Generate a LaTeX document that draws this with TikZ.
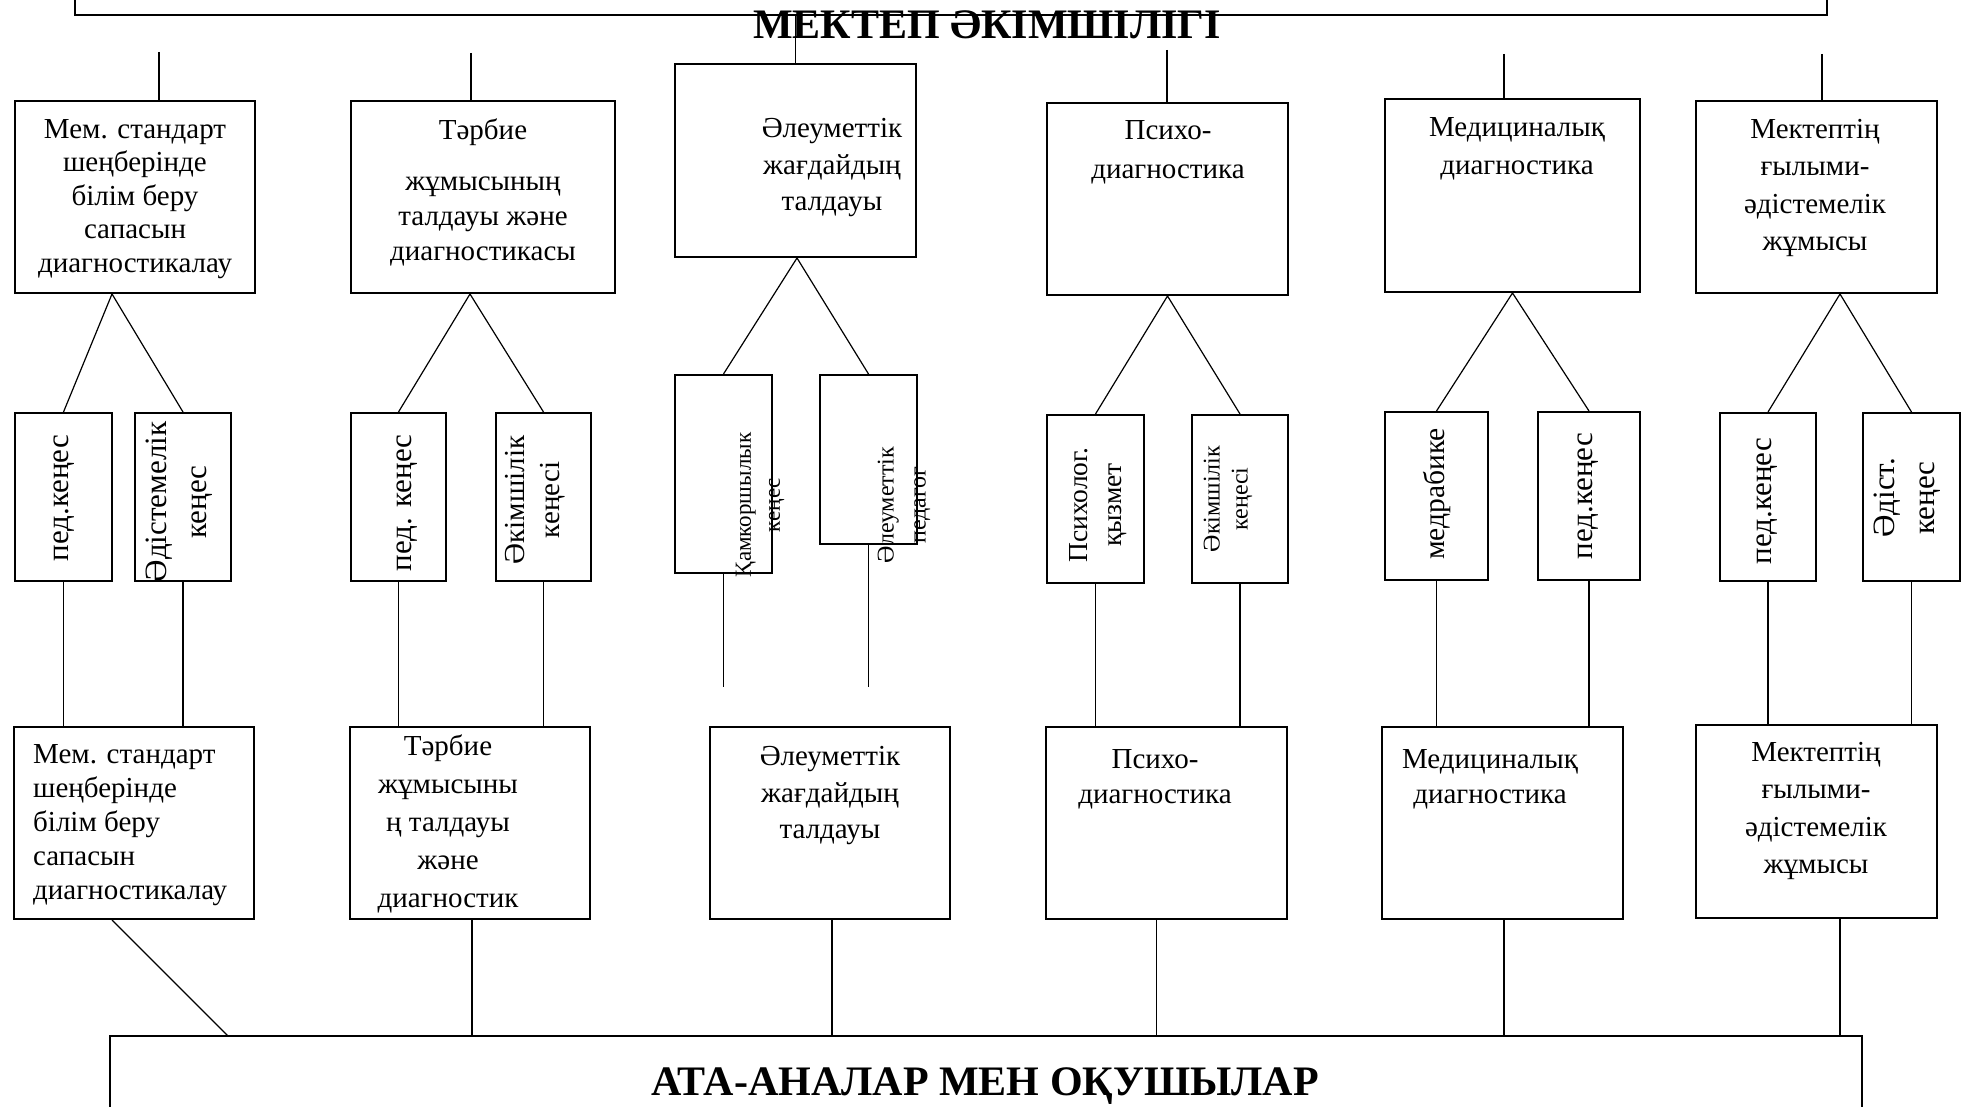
\documentclass[tikz,border=0pt]{standalone}
\usepackage{fontspec}
\setmainfont{Liberation Serif}
\usepackage{tikz}

\newcommand{\fsz}[2]{\fontsize{#1}{#2}\selectfont}

\begin{document}
\begin{tikzpicture}[x=1pt, y=-1pt,
  box/.style={draw, line width=2pt, inner sep=0pt},
  txt/.style={align=center, inner sep=0pt, font=\fsz{29}{35}},
  vtxt/.style={align=center, inner sep=0pt, rotate=90, font=\fsz{31}{36}},
  head/.style={inner sep=0pt, anchor=base, font=\bfseries\fsz{42}{42}},
  link/.style={line width=1.2pt}]

\useasboundingbox (0,0) rectangle (1968,1107);

\node[box, minimum width=1752, minimum height=60] (admin) at (951,-15) {};
\node[head] (admintitle) at (987,39) {МЕКТЕП ӘКІМШІЛІГІ};
\node[box, minimum width=1752, minimum height=110] (parents) at (986,1091) {};
\node[head] (parentstitle) at (985,1095) {АТА-АНАЛАР МЕН ОҚУШЫЛАР};

\node[box, minimum width=240, minimum height=192] (a1) at (135,197) {};
\node[box, minimum width=264, minimum height=192] (a2) at (483,197) {};
\node[box, minimum width=241, minimum height=193] (a3) at (795.5,160.5) {};
\node[box, minimum width=241, minimum height=192] (a4) at (1167.5,199) {};
\node[box, minimum width=255, minimum height=193] (a5) at (1512.5,195.5) {};
\node[box, minimum width=241, minimum height=192] (a6) at (1816.5,197) {};

\node[txt, font=\fsz{29}{33.5}] (a1t) at (135,199) {Мем. стандарт\\шеңберінде\\білім беру\\сапасын\\диагностикалау};
\node[txt] (a2t) at (483,192) {Тәрбие\\[16pt]жұмысының\\талдауы және\\диагностикасы};
\node[txt, font=\fsz{29}{36.5}] (a3t) at (832,168) {Әлеуметтік\\жағдайдың\\талдауы};
\node[txt, font=\fsz{29}{39}] (a4t) at (1168,152) {Психо-\\диагностика};
\node[txt, font=\fsz{29}{38}] (a5t) at (1517,149) {Медициналық\\диагностика};
\node[txt, font=\fsz{29}{37.5}] (a6t) at (1815,188) {Мектептің\\ғылыми-\\әдістемелік\\жұмысы};

\node[box, minimum width=97, minimum height=168] (b1a) at (63.5,497) {};
\node[box, minimum width=96, minimum height=168] (b1b) at (183,497) {};
\node[box, minimum width=95, minimum height=168] (b2a) at (398.5,497) {};
\node[box, minimum width=95, minimum height=168] (b2b) at (543.5,497) {};
\node[box, minimum width=97, minimum height=198] (b3a) at (723.5,474) {};
\node[box, minimum width=97, minimum height=169] (b3b) at (868.5,459.5) {};
\node[box, minimum width=97, minimum height=168] (b4a) at (1095.5,499) {};
\node[box, minimum width=96, minimum height=168] (b4b) at (1240,499) {};
\node[box, minimum width=103, minimum height=168] (b5a) at (1436.5,496) {};
\node[box, minimum width=102, minimum height=168] (b5b) at (1589,496) {};
\node[box, minimum width=96, minimum height=168] (b6a) at (1768,497) {};
\node[box, minimum width=97, minimum height=168] (b6b) at (1911.5,497) {};

\node[vtxt] (b1at) at (64,498) {пед.кеңес};
\node[vtxt, font=\fsz{31}{40}] (b1bt) at (179,502) {Әдістемелік\\кеңес};
\node[vtxt] (b2at) at (407,503) {пед. кеңес};
\node[vtxt, font=\fsz{29}{35}] (b2bt) at (535,500) {Әкімшілік\\кеңесі};
\node[vtxt, font=\fsz{23}{29}] (b3at) at (760,505) {Қамкоршылык\\кеңес};
\node[vtxt, font=\fsz{24}{32}] (b3bt) at (904,505) {Әлеуметтік\\педагог};
\node[vtxt, font=\fsz{27.5}{34}] (b4at) at (1098,505) {Психолог.\\қызмет};
\node[vtxt, font=\fsz{24}{28}] (b4bt) at (1228,499) {Әкімшілік\\кеңесі};
\node[vtxt, font=\fsz{29.5}{36}] (b5at) at (1437,494) {медрабике};
\node[vtxt] (b5bt) at (1588,496) {пед.кеңес};
\node[vtxt] (b6at) at (1767,501) {пед.кеңес};
\node[vtxt, font=\fsz{31}{40}] (b6bt) at (1907,498) {Әдіст.\\кеңес};

\node[box, minimum width=240, minimum height=192] (c1) at (134,823) {};
\node[box, minimum width=240, minimum height=192] (c2) at (470,823) {};
\node[box, minimum width=240, minimum height=192] (c3) at (830,823) {};
\node[box, minimum width=241, minimum height=192] (c4) at (1166.5,823) {};
\node[box, minimum width=241, minimum height=192] (c5) at (1502.5,823) {};
\node[box, minimum width=241, minimum height=193] (c6) at (1816.5,821.5) {};

\node[txt, align=left, anchor=west, font=\fsz{29}{34}] (c1t) at (33,825) {Мем. стандарт\\шеңберінде\\білім беру\\сапасын\\диагностикалау};
\node[txt, font=\fsz{29}{38}] (c2t) at (448,824) {Тәрбие\\жұмысыны\\ң талдауы\\және\\диагностик};
\node[txt, font=\fsz{29}{36.5}] (c3t) at (830,796) {Әлеуметтік\\жағдайдың\\талдауы};
\node[txt] (c4t) at (1155,779) {Психо-\\диагностика};
\node[txt] (c5t) at (1490,779) {Медициналық\\диагностика};
\node[txt, font=\fsz{29}{37.5}] (c6t) at (1816,811) {Мектептің\\ғылыми-\\әдістемелік\\жұмысы};

\coordinate (t1) at (159,52);
\coordinate (t2) at (471,53);
\coordinate (t4) at (1167,50);
\coordinate (t5) at (1504,54);
\coordinate (t6) at (1822,54);
\coordinate (e3a) at (723.5,687);
\coordinate (e3b) at (868.5,687);
\coordinate (pfoot) at (228,1036);

\draw[link] (t1) -- (t1 |- a1.north);
\draw[link] (t2) -- (t2 |- a2.north);
\draw[link] (admin.south -| a3.north) -- (a3.north);
\draw[link] (t4) -- (t4 |- a4.north);
\draw[link] (t5) -- (t5 |- a5.north);
\draw[link] (t6) -- (t6 |- a6.north);

\draw[link] (b1a.north) -- ([xshift=-23pt]a1.south) -- (b1b.north);
\draw[link] (b2a.north) -- ([xshift=-13pt]a2.south) -- (b2b.north);
\draw[link] (b3a.north) -- ([xshift=1.5pt]a3.south) -- (b3b.north);
\draw[link] (b4a.north) -- (a4.south) -- (b4b.north);
\draw[link] (b5a.north) -- (a5.south) -- (b5b.north);
\draw[link] (b6a.north) -- ([xshift=23.5pt]a6.south) -- (b6b.north);

\draw[link] (b1a.south) -- (b1a.south |- c1.north);
\draw[link] (b1b.south) -- (b1b.south |- c1.north);
\draw[link] (b2a.south) -- (b2a.south |- c2.north);
\draw[link] (b2b.south) -- (b2b.south |- c2.north);
\draw[link] (b3a.south) -- (e3a);
\draw[link] (b3b.south) -- (e3b);
\draw[link] (b4a.south) -- (b4a.south |- c4.north);
\draw[link] (b4b.south) -- (b4b.south |- c4.north);
\draw[link] (b5a.south) -- (b5a.south |- c5.north);
\draw[link] (b5b.south) -- (b5b.south |- c5.north);
\draw[link] (b6a.south) -- (b6a.south |- c6.north);
\draw[link] (b6b.south) -- (b6b.south |- c6.north);

\draw[link] ([xshift=-22pt]c1.south) -- (pfoot);
\draw[link] ([xshift=2pt]c2.south) -- ([xshift=2pt]c2.south |- parents.north);
\draw[link] ([xshift=2pt]c3.south) -- ([xshift=2pt]c3.south |- parents.north);
\draw[link] ([xshift=-10pt]c4.south) -- ([xshift=-10pt]c4.south |- parents.north);
\draw[link] ([xshift=1.5pt]c5.south) -- ([xshift=1.5pt]c5.south |- parents.north);
\draw[link] ([xshift=23.5pt]c6.south) -- ([xshift=23.5pt]c6.south |- parents.north);

\end{tikzpicture}
\end{document}
